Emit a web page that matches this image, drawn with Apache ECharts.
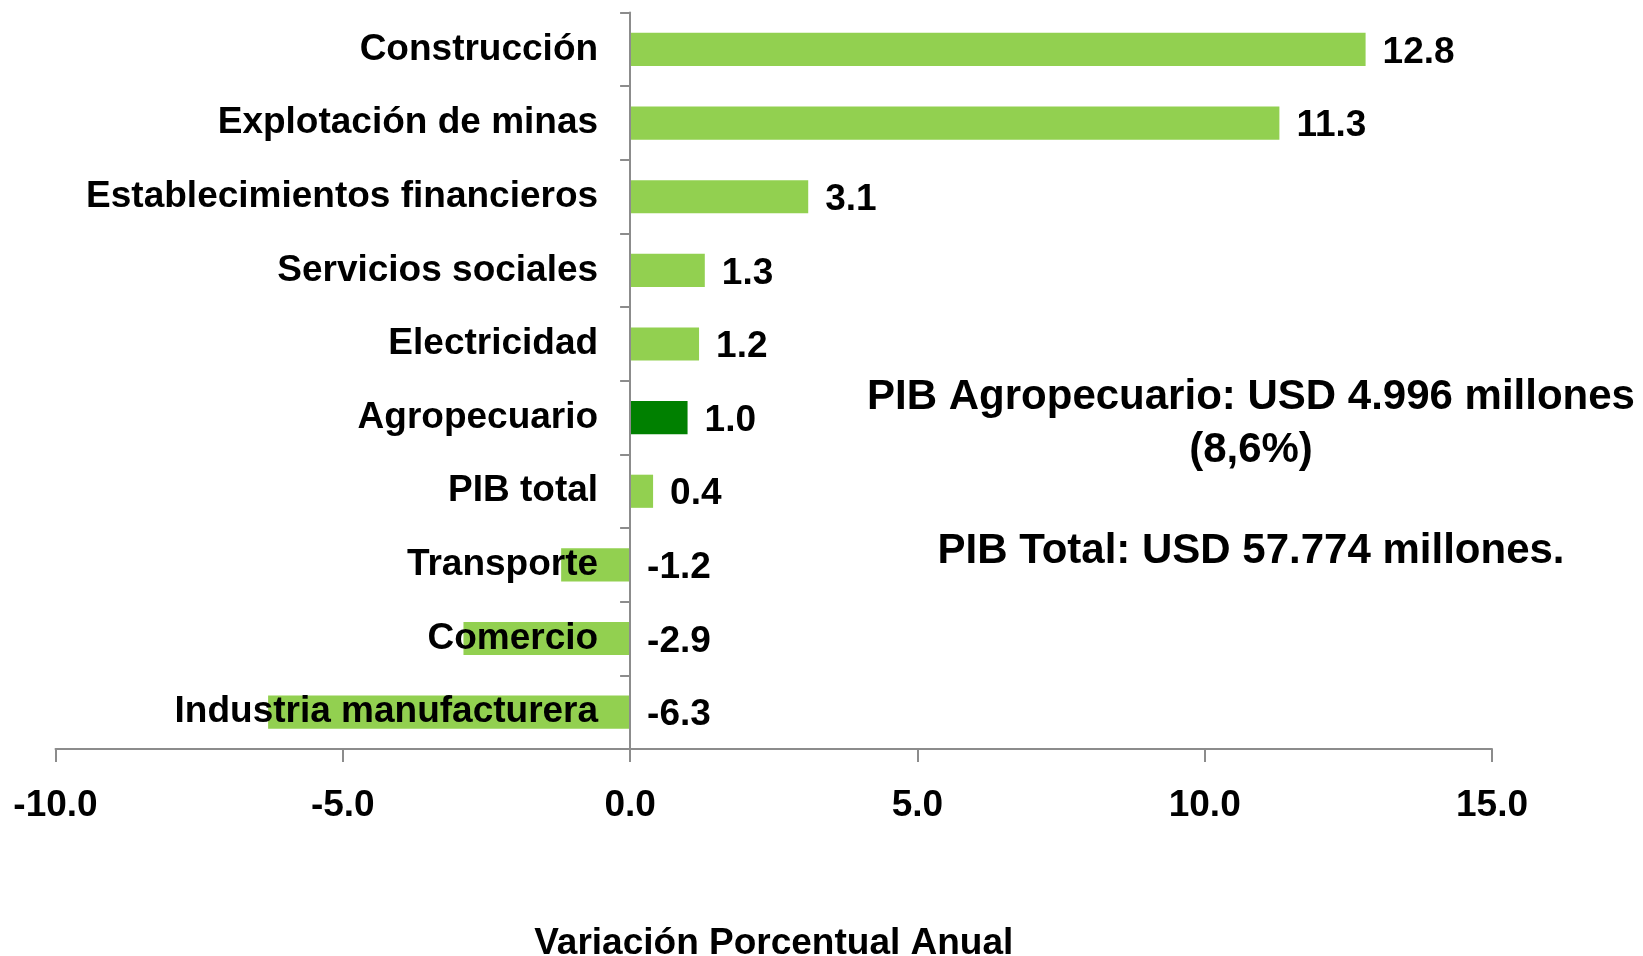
<!DOCTYPE html>
<html>
<head>
<meta charset="utf-8">
<script src="https://cdn.jsdelivr.net/npm/echarts@6/dist/echarts.min.js"></script>
<style>
    html, body { margin: 0; padding: 0; background: #fff; }
    #main { width: 1643px; height: 956px; }
</style>
</head>
<body>
<div id="main"></div>
<script>
// sectores, de arriba hacia abajo
const categories = [
    'Construcción',
    'Explotación de minas',
    'Establecimientos financieros',
    'Servicios sociales',
    'Electricidad',
    'Agropecuario',
    'PIB total',
    'Transporte',
    'Comercio',
    'Industria manufacturera'
];
const values = [12.8, 11.3, 3.1, 1.3, 1.2, 1.0, 0.4, -1.2, -2.9, -6.3];
const highlight = 'Agropecuario';
const notes = [
    'PIB Agropecuario: USD 4.996 millones',
    '(8,6%)',
    'PIB Total: USD 57.774 millones.'
];

const font = 'Arial, "Liberation Sans", sans-serif';
const lightGreen = '#92D050';
const darkGreen = '#008000';
const gray = '#8c8c8c';

const W = 1643, gridLeft = 55.5, gridRight = 151;
const xMin = -10, xMax = 15;
// el eje de categorias va sobre el cero
const zeroOffset = (0 - xMin) / (xMax - xMin) * (W - gridLeft - gridRight);

let myChart = echarts.init(document.getElementById('main'));

let seriesData = values.map((v, i) => ({
    value: v,
    itemStyle: { color: categories[i] === highlight ? darkGreen : lightGreen }
}));

let noteY = [397, 450, 551];

let option = {
    animation: false,
    grid: {
        left: gridLeft,
        right: gridRight,
        top: 12.6,
        bottom: 207,
        containLabel: false,
        outerBoundsMode: 'none'
    },
    xAxis: {
        type: 'value',
        min: xMin,
        max: xMax,
        interval: 5,
        name: 'Variación Porcentual Anual',
        nameLocation: 'middle',
        nameGap: 176,
        nameTextStyle: { fontFamily: font, fontWeight: 'bold', fontSize: 37, color: '#000' },
        axisLine: { show: true, lineStyle: { color: gray, width: 2 } },
        axisTick: { show: true, length: 13, lineStyle: { color: gray, width: 2 } },
        axisLabel: {
            margin: 38,
            fontFamily: font,
            fontWeight: 'bold',
            fontSize: 37,
            color: '#000',
            formatter: v => v.toFixed(1)
        },
        splitLine: { show: false }
    },
    yAxis: {
        type: 'category',
        inverse: true,
        data: categories,
        z: 5,
        offset: -zeroOffset,
        axisLine: { show: true, onZero: false, lineStyle: { color: gray, width: 2 } },
        axisTick: { show: true, length: 10, lineStyle: { color: gray, width: 2 } },
        axisLabel: {
            margin: 32,
            padding: [4, 0, 0, 0],
            fontFamily: font,
            fontWeight: 'bold',
            fontSize: 37,
            color: '#000'
        }
    },
    series: [
        {
            type: 'bar',
            data: seriesData,
            barCategoryGap: '55%',
            label: {
                show: true,
                position: 'right',
                distance: 17,
                offset: [0, 3],
                fontFamily: font,
                fontWeight: 'bold',
                fontSize: 37,
                color: '#000',
                formatter: p => p.value.toFixed(1)
            }
        }
    ],
    graphic: notes.map((t, i) => ({
        type: 'text',
        x: 1251,
        y: noteY[i],
        style: {
            text: t,
            textAlign: 'center',
            textVerticalAlign: 'middle',
            fontFamily: font,
            fontWeight: 'bold',
            fontSize: 42,
            fill: '#000'
        }
    }))
};
myChart.setOption(option);
</script>
</body>
</html>
